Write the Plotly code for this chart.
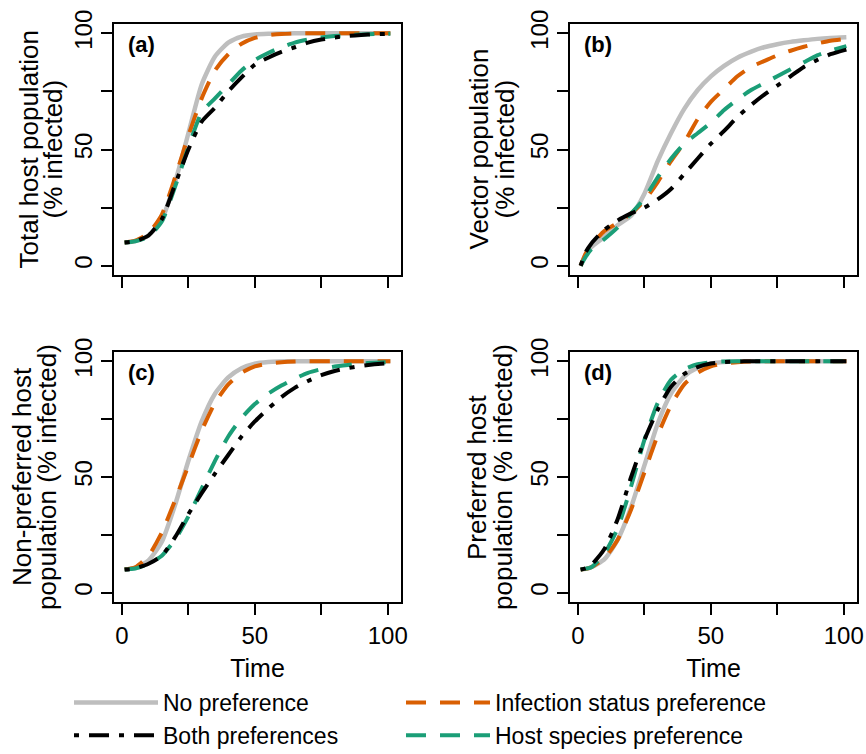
import plotly.graph_objects as go

# ---------------- data ----------------
time = [1, 3, 5, 10, 15, 20, 25, 30, 35, 40, 45, 50, 55, 60, 65, 70, 75, 80, 85, 90, 95, 101]

series_names = ["No preference", "Infection status preference",
                "Host species preference", "Both preferences"]

# (a) Total host population (% infected)
a_none = [10, 10.2, 10.6, 13, 20, 36, 57, 78, 90, 96, 98.6, 99.5, 99.8, 99.9, 100, 100, 100, 100, 100, 100, 100, 100]
a_infection = [10, 10.3, 10.8, 14, 22, 38, 56, 72, 84, 91, 95.5, 98, 99.2, 99.7, 99.9, 100, 100, 100, 100, 100, 100, 100]
a_host = [10, 10.2, 10.5, 12.5, 19, 34, 51, 66, 72, 78, 84, 88.5, 91.5, 94, 96, 97.3, 98.2, 98.8, 99.2, 99.5, 99.7, 99.8]
a_both = [10, 10.2, 10.5, 13, 20, 35, 50, 62, 68, 75, 81, 86.5, 89.5, 92, 94, 96, 97.3, 98.2, 98.9, 99.3, 99.6, 99.8]

# (b) Vector population (% infected)
b_none = [0, 5, 8, 12.5, 17.5, 21.5, 31, 45, 57, 67.5, 75.5, 81.5, 86, 89.5, 92, 94, 95.3, 96.3, 97, 97.6, 98, 98.3]
b_infection = [0, 5.5, 9, 15, 18.5, 22.5, 28, 36, 45, 53, 63, 70.5, 76, 81.5, 85.5, 88, 90.5, 92.5, 94.2, 95.6, 96.8, 97.6]
b_host = [0, 4, 7, 11.5, 16.5, 22.5, 29, 38, 46, 52.5, 57, 61.5, 67, 71.5, 75.5, 78.5, 81.5, 84.5, 87.5, 90.5, 92.5, 94.5]
b_both = [0, 6, 9.5, 15.5, 19.5, 22.5, 25, 28.5, 33, 39.5, 46, 52.5, 58, 64, 69, 73.5, 77.5, 81.5, 85.5, 88.5, 91, 93]

# (c) Non-preferred host population (% infected)
c_none = [10, 10.3, 10.8, 14, 22, 38, 57, 74, 86, 93, 97, 99, 99.7, 99.9, 100, 100, 100, 100, 100, 100, 100, 100]
c_infection = [10, 10.4, 11, 16, 26, 40, 55, 70, 82, 90, 95, 97.8, 99, 99.6, 99.9, 100, 100, 100, 100, 100, 100, 100]
c_host = [10, 10.2, 10.5, 12.5, 16, 23, 33, 45, 57, 67.5, 75.5, 81.5, 86, 89.5, 92.5, 95, 96.6, 97.7, 98.4, 99, 99.4, 99.6]
c_both = [10, 10.2, 10.5, 12.5, 16, 24, 34, 43, 51.5, 59.5, 67.5, 74, 79.5, 84.5, 88.5, 91.5, 94, 95.8, 97, 98, 98.7, 99.2]

# (d) Preferred host population (% infected)
d_none = [10, 10.3, 11, 14.5, 23, 37, 55, 73, 86, 93.5, 97.2, 99, 99.7, 99.9, 100, 100, 100, 100, 100, 100, 100, 100]
d_infection = [10, 10.3, 11, 15, 23, 36, 52, 68, 81, 90, 95, 97.8, 99, 99.6, 99.9, 100, 100, 100, 100, 100, 100, 100]
d_host = [10, 10.4, 11, 17, 28, 46, 66, 82, 92, 96.5, 98.7, 99.6, 99.9, 100, 100, 100, 100, 100, 100, 100, 100, 100]
d_both = [10, 10.6, 12, 19, 32, 50, 66, 79, 89, 94.5, 97.5, 99, 99.6, 99.9, 100, 100, 100, 100, 100, 100, 100, 100]

panel_letters = ["(a)", "(b)", "(c)", "(d)"]
ytitles = [["Total host population", "(% infected)"],
           ["Vector population", "(% infected)"],
           ["Non-preferred host", "population (% infected)"],
           ["Preferred host", "population (% infected)"]]
xtitle = "Time"
tick_vals = [0, 25, 50, 75, 100]
tick_text = ["0", "", "50", "", "100"]

panels = [[a_none, a_infection, a_host, a_both],
          [b_none, b_infection, b_host, b_both],
          [c_none, c_infection, c_host, c_both],
          [d_none, d_infection, d_host, d_both]]

# ---------------- styling ----------------
FONT = "Liberation Sans, Arial, Helvetica, sans-serif"
W, H = 866, 754
styles = [
    dict(color="#BEBEBE", width=4.5, dash="solid"),
    dict(color="#D95F02", width=4, dash="20px,14px"),
    dict(color="#1B9E77", width=4, dash="20px,14px"),
    dict(color="#000000", width=4, dash="5px,10px,20px,10px"),
]
legend_rank = [1, 2, 4, 3]
legend_ids = ["legend", "legend2", "legend2", "legend"]

# panel boxes in pixels: (left, right, top, bottom)
boxes = [(114, 401, 24, 275), (570, 857, 24, 275),
         (114, 401, 352, 602), (570, 857, 352, 602)]

fig = go.Figure()
for p, series in enumerate(panels):
    suffix = "" if p == 0 else str(p + 1)
    for s, vals in enumerate(series):
        fig.add_trace(go.Scatter(
            x=time, y=vals, mode="lines", name=series_names[s],
            line=dict(shape="spline", smoothing=0.6, **styles[s]),
            xaxis="x" + suffix, yaxis="y" + suffix,
            showlegend=(p == 0), legendrank=legend_rank[s], legend=legend_ids[s],
            legendgroup="g%d" % s))

leg_common = dict(orientation="v", yanchor="middle", y=1 - 719 / H, xanchor="left",
                  itemwidth=84, font=dict(size=23), bgcolor="rgba(0,0,0,0)",
                  tracegroupgap=4, traceorder="normal")

layout = dict(
    width=W, height=H, margin=dict(l=0, r=0, t=0, b=0, autoexpand=False),
    paper_bgcolor="white", plot_bgcolor="white",
    font=dict(family=FONT, size=23, color="black"),
    legend=dict(x=69 / W, **leg_common),
    legend2=dict(x=401 / W, **leg_common),
    annotations=[],
)

for p, (l, r, t, b) in enumerate(boxes):
    suffix = "" if p == 0 else str(p + 1)
    bottom = p >= 2
    common = dict(showline=True, mirror=True, linecolor="black", linewidth=1.5,
                  ticks="outside", ticklen=11, tickwidth=1.5, tickcolor="black",
                  showgrid=False, zeroline=False, tickvals=tick_vals, ticktext=tick_text,
                  tickfont=dict(size=24), automargin=False)
    layout["xaxis" + suffix] = dict(
        domain=[l / W, r / W], range=[-3, 105], anchor="y" + suffix,
        showticklabels=bottom, title=dict(text=xtitle if bottom else "", standoff=12,
                                          font=dict(size=25)),
        **common)
    layout["yaxis" + suffix] = dict(
        domain=[1 - b / H, 1 - t / H], range=[-4, 104], anchor="x" + suffix,
        tickangle=-90, **common)
    # panel letter
    layout["annotations"].append(dict(
        text="<b>" + panel_letters[p] + "</b>", xref="x" + suffix + " domain",
        yref="y" + suffix + " domain", x=0.042, y=0.92, xanchor="left", yanchor="middle",
        showarrow=False, font=dict(size=22)))
    # y titles, two lines
    offs = [(-86, -62), (-92, -66), (-92, -67), (-93, -67)][p]
    for k, line in enumerate(ytitles[p]):
        layout["annotations"].append(dict(
            text=line, xref="paper", yref="paper",
            x=(l + offs[k]) / W, y=1 - (t + b) / 2 / H, xanchor="center", yanchor="middle",
            textangle=-90, showarrow=False, font=dict(size=26)))

fig.update_layout(**layout)
fig.write_html("out.html")
